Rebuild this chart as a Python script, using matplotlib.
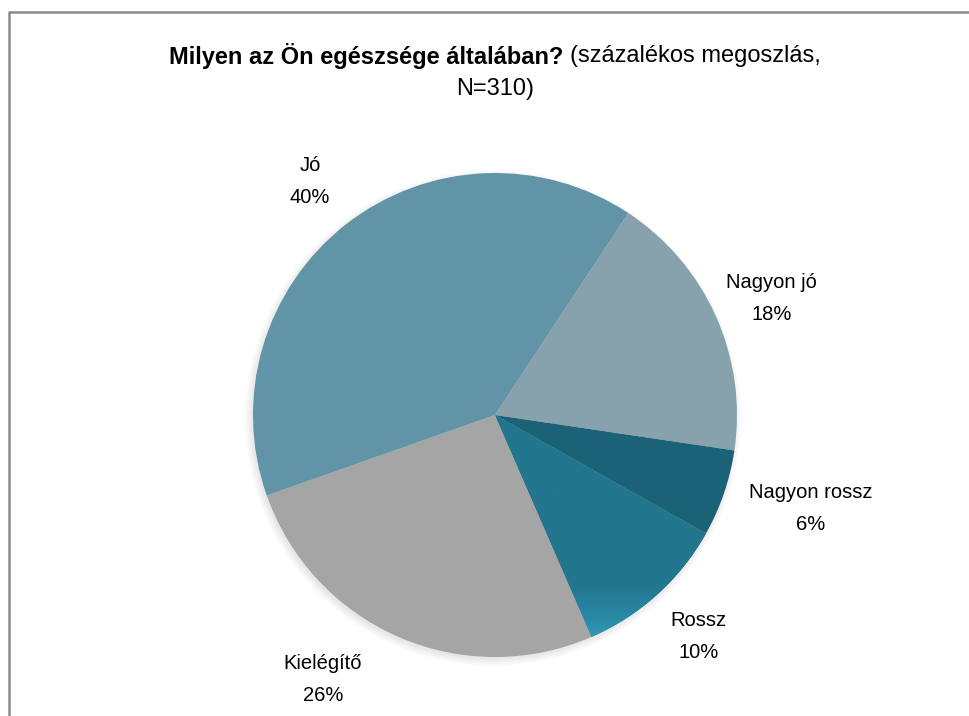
import numpy as np
import matplotlib
matplotlib.use('Agg')
from matplotlib import pyplot as plt
from matplotlib.lines import Line2D
from matplotlib.colors import LinearSegmentedColormap

# data (counts, N=310), clockwise from upper right
categories = ['Nagyon jó', 'Nagyon rossz', 'Rossz', 'Kielégítő', 'Jó']
counts = [56, 18, 32, 81, 123]
pct_labels = ['18%', '6%', '10%', '26%', '40%']

colors = ['#87a2ac', '#1b6276', '#22768d', '#a5a5a5', '#6194a6']
# label distance (in radii) and angle nudge (deg) per slice
label_dist = [1.24, 1.36, 1.245, 1.305, 1.23]
label_nudge = [1.2, -2.4, -0.5, 9.5, -0.4]

plt.rcParams['font.family'] = ['Liberation Sans', 'DejaVu Sans']

W, H = 970, 716
fig = plt.figure(figsize=(W / 100, H / 100), dpi=100)
ax = fig.add_axes([0, 0, 1, 1])

cx, cy, r = 495, 415, 242

# soft shadow
for k in range(8):
    c = plt.Circle((cx - 2, cy + 3), r + 6 - k, color='#000000', alpha=0.012, lw=0)
    ax.add_patch(c)

wedges, _ = ax.pie(counts, colors=colors, startangle=-56.6, counterclock=True,
                   center=(cx, cy), radius=r, frame=True,
                   wedgeprops=dict(linewidth=0))
ax.set_xlim(0, W)
ax.set_ylim(H, 0)
ax.set_aspect('equal')
ax.axis('off')

# gradient in the Rossz slice (lighter toward bottom)
cmap = LinearSegmentedColormap.from_list(
    'rossz', [(0, '#22768d'), (0.7, '#22768d'), (0.85, '#2a8ba7'), (1.0, '#3cabcd')])
grad = np.linspace(0, 1, 256).reshape(-1, 1)
im = ax.imshow(grad, cmap=cmap, extent=(cx, cx + r, cy + r, cy), origin='upper',
               aspect='auto', zorder=wedges[2].get_zorder() + 0.1)
im.set_clip_path(wedges[2])

# labels (y axis inverted, angles run clockwise on screen)
for w, name, pct, d, nud in zip(wedges, categories, pct_labels, label_dist, label_nudge):
    ang = np.deg2rad((w.theta1 + w.theta2) / 2 + nud)
    x = cx + d * r * np.cos(ang)
    y = cy + d * r * np.sin(ang)
    ax.text(x, y, name + '\n' + pct, ha='center', va='center', fontsize=14.5,
            linespacing=1.85, color='#000000')

# title: bold part + normal part
t1 = ax.text(0, 56, 'Milyen az Ön egészsége általában? ', fontsize=17, fontweight='bold',
             ha='left', va='center')
t2 = ax.text(0, 56, '(százalékos megoszlás,', fontsize=17, ha='left', va='center')
fig.canvas.draw()
rend = fig.canvas.get_renderer()
w1 = t1.get_window_extent(rend).width
w2 = t2.get_window_extent(rend).width
x0 = 495 - (w1 + w2) / 2
t1.set_x(x0)
t2.set_x(x0 + w1)
ax.text(495, 89, 'N=310)', fontsize=17, ha='center', va='center')

# chart frame (right and bottom edges cut off)
ax.add_line(Line2D([9, 9, W], [H, 12, 12], color='#8c8c8c', lw=1.8))

fig.savefig('out.png', dpi=100)
